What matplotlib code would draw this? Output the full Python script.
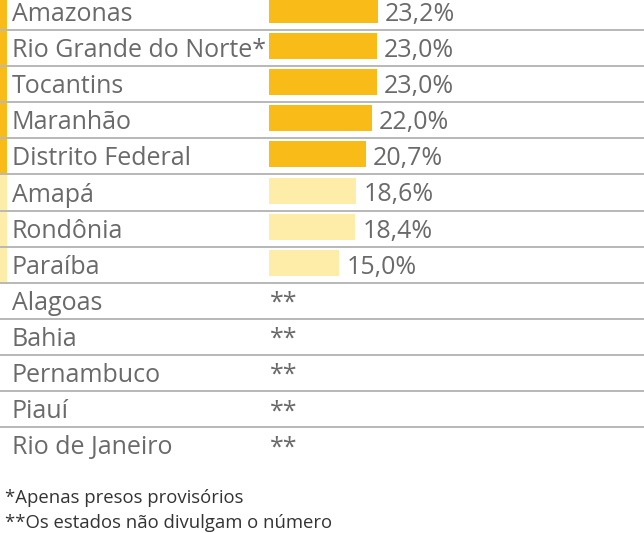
import matplotlib.pyplot as plt

plt.rcParams['font.family'] = ['Open Sans', 'DejaVu Sans']

estados = ["Amazonas", "Rio Grande do Norte*", "Tocantins", "Maranhão",
           "Distrito Federal", "Amapá", "Rondônia", "Paraíba",
           "Alagoas", "Bahia", "Pernambuco", "Piauí", "Rio de Janeiro"]
valores = [23.2, 23.0, 23.0, 22.0, 20.7, 18.6, 18.4, 15.0]
rotulos = ["23,2%", "23,0%", "23,0%", "22,0%", "20,7%", "18,6%", "18,4%", "15,0%"]
destaque = [True, True, True, True, True, False, False, False]
notas = ["*Apenas presos provisórios", "**Os estados não divulgam o número"]

laranja = "#F9BB17"
amarelo = "#FDEDA9"
cinza_txt = "#6a6a6a"

W, H = 644, 533
px_por_un = 4.69   # pixels per percentage point
x0_px = 269        # where bars begin
passo = 36.1       # row pitch in pixels
centro0 = 12       # pixel y of first row center

fig = plt.figure(figsize=(W / 100, H / 100), dpi=100)
ax = fig.add_axes([0, 0, 1, 1])
ax.set_xlim(-x0_px / px_por_un, (W - x0_px) / px_por_un)
ax.set_ylim((H - centro0) / passo, -centro0 / passo)
ax.axis("off")

n = len(estados)
cores = [laranja if d else amarelo for d in destaque]

# bars (slightly above the row center)
ys = [i - 2 / passo for i in range(len(valores))]
ax.barh(ys, valores, height=26 / passo, color=cores, zorder=2)

# accent strip on the left edge
for i, c in enumerate(cores):
    ax.axhspan(i - 0.5, i + 0.5, xmin=0, xmax=7 / W, color=c, lw=0, zorder=1)

# row separators
for i in range(n - 1):
    ax.axhline(i + 0.5, color="#b8b8b8", lw=1.4, zorder=3)

off = 9 / passo
fs = 18
for i, nome in enumerate(estados):
    ax.text(ax.get_xlim()[0] + 12 / px_por_un, i + off, nome, fontsize=fs,
            color=cinza_txt, va="baseline", ha="left")

for i, (v, r) in enumerate(zip(valores, rotulos)):
    ax.text(v + 7 / px_por_un, i + off, r, fontsize=fs, color=cinza_txt,
            va="baseline", ha="left")

for i in range(len(valores), n):
    ax.text(1 / px_por_un, i + off, "**", fontsize=fs, color=cinza_txt,
            va="baseline", ha="left")

fig.text(5 / W, 1 - 503 / H, notas[0], fontsize=13.3, color="#333333",
         va="baseline", ha="left")
fig.text(5 / W, 1 - 528 / H, notas[1], fontsize=13.3, color="#333333",
         va="baseline", ha="left")

fig.savefig("out.png", dpi=100)
